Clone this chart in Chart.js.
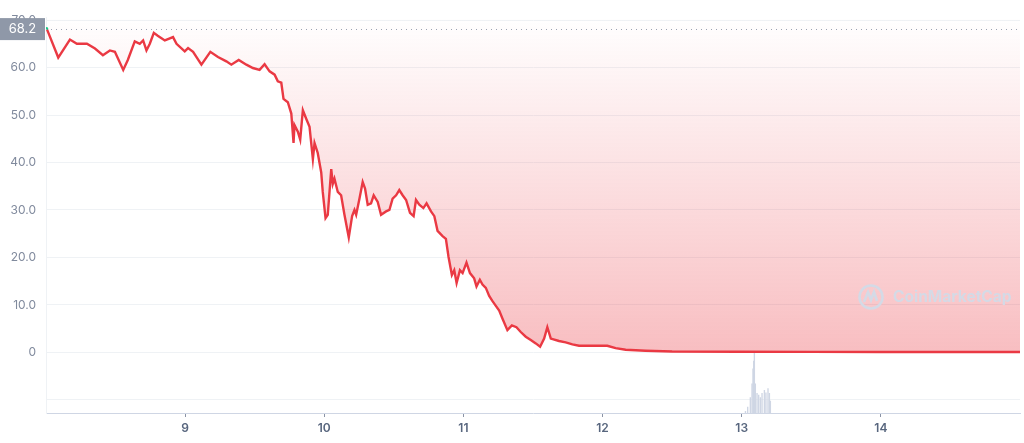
<!DOCTYPE html>
<html>
<head>
<meta charset="utf-8">
<script src="https://cdn.jsdelivr.net/npm/chart.js@4.4.1/dist/chart.umd.min.js"></script>
<style>
  html, body { margin: 0; padding: 0; background: #fff; }
  #wrap { width: 1024px; height: 443px; position: relative; }
</style>
</head>
<body>
<div id="wrap"><canvas id="priceChart"></canvas></div>
<script>
// price, by day of month
const priceDays = [8.005, 8.088, 8.172, 8.222, 8.294, 8.352, 8.409, 8.459, 8.495, 8.555, 8.588, 8.638, 8.674, 8.698, 8.722, 8.746, 8.775, 8.803, 8.854, 8.913, 8.938, 8.997, 9.021, 9.057, 9.117, 9.181, 9.236, 9.296, 9.332, 9.385, 9.440, 9.487, 9.535, 9.571, 9.607, 9.643, 9.666, 9.691, 9.707, 9.738, 9.763, 9.779, 9.786, 9.810, 9.827, 9.846, 9.870, 9.894, 9.918, 9.930, 9.953, 9.978, 9.989, 10.009, 10.025, 10.050, 10.061, 10.073, 10.097, 10.121, 10.145, 10.176, 10.200, 10.217, 10.229, 10.253, 10.276, 10.293, 10.312, 10.336, 10.355, 10.384, 10.408, 10.444, 10.468, 10.491, 10.516, 10.539, 10.563, 10.588, 10.616, 10.642, 10.659, 10.683, 10.712, 10.735, 10.767, 10.791, 10.814, 10.850, 10.874, 10.893, 10.917, 10.934, 10.951, 10.975, 10.994, 11.022, 11.047, 11.077, 11.094, 11.118, 11.137, 11.161, 11.185, 11.209, 11.233, 11.257, 11.281, 11.316, 11.348, 11.381, 11.412, 11.448, 11.484, 11.520, 11.551, 11.580, 11.603, 11.628, 11.687, 11.735, 11.783, 11.831, 11.926, 12.034, 12.094, 12.166, 12.309, 12.500, 12.978, 13.500, 14.000, 14.500, 15.000];
const priceValues = [68.2, 62.1, 65.9, 65.0, 65.0, 64.0, 62.6, 63.6, 63.3, 59.5, 61.6, 65.5, 65.0, 65.7, 63.6, 65.0, 67.3, 66.7, 65.7, 66.4, 65.0, 63.4, 64.1, 63.3, 60.6, 63.3, 62.2, 61.3, 60.6, 61.6, 60.6, 59.9, 59.5, 60.7, 59.2, 58.5, 57.1, 56.8, 53.4, 52.7, 50.3, 44.1, 47.9, 46.5, 44.8, 51.0, 49.2, 47.5, 40.7, 44.1, 42.0, 37.9, 33.8, 28.3, 29.0, 38.6, 35.5, 36.6, 33.8, 33.1, 29.0, 24.2, 28.7, 30.0, 29.0, 32.4, 35.9, 34.5, 31.1, 31.4, 33.1, 31.7, 29.0, 29.7, 30.0, 32.4, 33.1, 34.2, 33.1, 32.1, 29.4, 28.7, 32.1, 31.1, 30.4, 31.4, 29.7, 28.7, 25.6, 24.5, 23.9, 20.1, 16.3, 17.3, 14.6, 17.3, 16.7, 18.9, 16.7, 15.6, 13.9, 15.3, 14.3, 13.6, 11.9, 10.8, 9.8, 8.8, 7.1, 4.7, 5.7, 5.3, 4.3, 3.3, 2.6, 1.9, 1.2, 2.9, 5.3, 2.9, 2.4, 2.1, 1.7, 1.4, 1.4, 1.4, 0.9, 0.55, 0.35, 0.2, 0.15, 0.12, 0.1, 0.1, 0.1];

// volume (relative units)
const volumeDays = [13.027, 13.043, 13.062, 13.074, 13.081, 13.086, 13.091, 13.098, 13.110, 13.122, 13.134, 13.146, 13.163, 13.174, 13.189, 13.199, 13.206];
const volumeValues = [0.3, 1.0, 2.6, 4.9, 7.4, 8.7, 10.0, 4.9, 3.3, 3.0, 2.6, 3.3, 3.8, 3.4, 4.1, 3.3, 2.0];

const dayTicks = [9, 10, 11, 12, 13, 14];
const lastPrice = 68.2;

const RED = "#ea3943";

const overlayPlugin = {
  id: "overlay",
  afterDatasetsDraw(chart) {
    const ctx = chart.ctx;
    // watermark
    ctx.save();
    ctx.strokeStyle = "#d4dae6";
    ctx.fillStyle = "#d4dae6";
    ctx.lineWidth = 2.6;
    const cx = 871, cy = 297;
    ctx.beginPath();
    ctx.arc(cx, cy, 11.5, 0, Math.PI * 2);
    ctx.stroke();
    ctx.beginPath();
    ctx.moveTo(cx - 7, cy + 5);
    ctx.lineTo(cx - 3, cy - 5);
    ctx.lineTo(cx, cy + 3);
    ctx.lineTo(cx + 3, cy - 5);
    ctx.lineTo(cx + 6, cy + 4);
    ctx.stroke();
    ctx.font = "bold 15.5px Inter";
    ctx.textBaseline = "middle";
    ctx.fillText("CoinMarketCap", 893, cy);
    ctx.restore();
  },
  afterDraw(chart) {
    const ctx = chart.ctx;
    const area = chart.chartArea;
    const y = chart.scales.y.getPixelForValue(lastPrice);
    ctx.save();
    ctx.strokeStyle = "#9aa3b2";
    ctx.lineWidth = 1;
    ctx.setLineDash([1, 4]);
    ctx.beginPath();
    ctx.moveTo(area.left, Math.round(y) + 0.5);
    ctx.lineTo(area.right, Math.round(y) + 0.5);
    ctx.stroke();
    ctx.setLineDash([]);
    ctx.fillStyle = "#8f98a8";
    ctx.fillRect(0, y - 10.5, 45, 22);
    ctx.fillStyle = "#fff";
    ctx.font = "13px Inter";
    ctx.textAlign = "center";
    ctx.textBaseline = "middle";
    ctx.fillText(lastPrice.toFixed(1), 22.5, y + 0.5);
    ctx.restore();
  }
};

const ctx = document.getElementById("priceChart").getContext("2d");
const chart = new Chart(ctx, {
  type: "line",
  data: {
    datasets: [
      {
        type: "line",
        label: "Price",
        data: priceDays.map((d, i) => ({ x: d, y: priceValues[i] })),
        borderColor: RED,
        borderWidth: 2.4,
        pointRadius: c => (c.dataIndex === 0 ? 1.5 : 0),
        pointBackgroundColor: "#16c784",
        pointBorderWidth: 0,
        tension: 0,
        fill: "end",
        backgroundColor: function(context) {
          const a = context.chart.chartArea;
          if (!a) return "rgba(234,57,67,0.2)";
          const zeroY = context.chart.scales.y.getPixelForValue(0);
          const g = context.chart.ctx.createLinearGradient(0, a.top, 0, zeroY);
          g.addColorStop(0, "rgba(234,57,67,0.0)");
          g.addColorStop(1, "rgba(234,57,67,0.33)");
          return g;
        },
        yAxisID: "y",
        order: 1
      },
      {
        type: "bar",
        label: "Volume",
        data: volumeDays.map((d, i) => ({ x: d, y: volumeValues[i] })),
        backgroundColor: "#cfd6e4",
        barPercentage: 1,
        categoryPercentage: 1,
        yAxisID: "yVol",
        order: 2
      }
    ]
  },
  options: {
    responsive: true,
    maintainAspectRatio: false,
    animation: false,
    layout: { padding: { top: 8, right: 2, left: 0, bottom: 0 } },
    plugins: {
      legend: { display: false },
      tooltip: { enabled: false }
    },
    scales: {
      x: {
        type: "linear",
        min: 8,
        max: 15,
        offset: false,
        afterBuildTicks: scale => {
          scale.ticks = dayTicks.map(v => ({ value: v }));
        },
        afterFit: scale => { scale.height = 30; },
        ticks: {
          color: "#58667e",
          font: { family: "Inter", size: 12, weight: "600" },
          padding: 4
        },
        grid: {
          offset: false,
          drawOnChartArea: false,
          drawTicks: true,
          tickLength: 4,
          color: "#8a93a5"
        },
        border: { color: "#cfd6e4", width: 1 }
      },
      y: {
        min: -12.76,
        max: 70.6,
        afterBuildTicks: scale => {
          const t = [];
          for (let v = -10; v <= 70; v += 10) t.push({ value: v });
          scale.ticks = t;
        },
        afterFit: scale => { scale.width = 46; },
        ticks: {
          color: "#808a9d",
          font: { family: "Inter", size: 12 },
          padding: 10,
          callback: v => (v < 0 ? "" : v === 0 ? "0" : v.toFixed(1))
        },
        grid: { color: "#eff2f5", drawTicks: false },
        border: { color: "#eff2f5" }
      },
      yVol: {
        display: false,
        min: 0,
        max: 10 * 405 / 61
      }
    }
  },
  plugins: [overlayPlugin]
});
</script>
</body>
</html>
